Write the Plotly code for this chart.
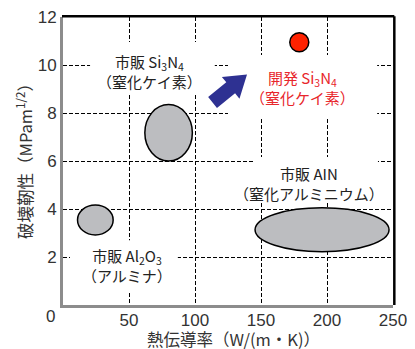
import math
import plotly.graph_objects as go

# ---------------- data ----------------
ellipse_names = ["市販 Al2O3", "市販 Si3N4", "市販 AlN"]
ellipse_k_min = [11.0, 62.0, 145.5]      # thermal conductivity W/(m·K)
ellipse_k_max = [38.0, 98.0, 247.0]
ellipse_kic_min = [2.92, 6.0, 2.22]      # fracture toughness MPam^1/2
ellipse_kic_max = [4.17, 8.35, 4.05]

developed_k = [179.0]
developed_kic = [10.95]

x_tick_vals = [0, 50, 100, 150, 200, 250]
x_tick_text = ["", "50", "100", "150", "200", "250"]
y_tick_vals = [2, 4, 6, 8, 10, 12]
y_tick_text = ["2", "4", "6", "8", "10", "12"]

label_texts = [
    "市販 Si<sub>3</sub>N<sub>4</sub><br>（窒化ケイ素）",
    "開発 Si<sub>3</sub>N<sub>4</sub><br>（窒化ケイ素）",
    "市販 AIN<br>（窒化アルミニウム）",
    "市販 Al<sub>2</sub>O<sub>3</sub><br>（アルミナ）",
]
x_title = "熱伝導率（W/(m・K)）"
y_title = "破壊靭性（MPam<sup>1/2</sup>）"

# ---------------- layout constants ----------------
# page body has an 8px default margin, so the figure is 8px smaller
W, H = 407, 341
ML, MR, MT, MB = 55, 22, 9, 44
X_RANGE = [0, 250]
Y_RANGE = [0, 12]
SX = (W - ML - MR) / (X_RANGE[1] - X_RANGE[0])   # px per x unit
SY = (H - MT - MB) / (Y_RANGE[1] - Y_RANGE[0])   # px per y unit

label_pos = [(65.9, 9.75), (181.8, 9.08), (186.4, 5.08), (48.5, 1.63)]
label_colors = ["#222222", "#e8262b", "#222222", "#222222"]
# white boxes behind labels (x0, x1, y0, y1) in data units
label_boxes = [
    (20.5, 115.0, 8.75, 10.96),
    (125.0, 238.0, 7.83, 10.42),
    (144.0, 238.6, 4.25, 6.17),
    (5.3, 87.0, 0.54, 2.7),
]
arrow_tail = (113.3, 8.44)
arrow_tip = (139.4, 9.6)

FONT = "Liberation Sans, Noto Sans CJK JP, sans-serif"
CJK = "Noto Sans CJK JP, Liberation Sans, sans-serif"

fig = go.Figure()

shapes = []
for (x0, x1, y0, y1) in label_boxes:
    shapes.append(dict(type="rect", xref="x", yref="y", x0=x0, x1=x1, y0=y0, y1=y1,
                       fillcolor="white", line=dict(width=0), layer="between"))

for i in range(len(ellipse_names)):
    shapes.append(dict(type="circle", xref="x", yref="y",
                       x0=ellipse_k_min[i], x1=ellipse_k_max[i],
                       y0=ellipse_kic_min[i], y1=ellipse_kic_max[i],
                       fillcolor="#bcbdc0", line=dict(color="black", width=1.5),
                       layer="between"))

# arrow polygon (computed in pixel space, converted back to data units)
dxp = (arrow_tip[0] - arrow_tail[0]) * SX
dyp = (arrow_tip[1] - arrow_tail[1]) * SY
L = math.hypot(dxp, dyp)
ux, uy = dxp / L, dyp / L
nx, ny = -uy, ux
shaft_hw, head_hw, head_len = 7.0, 14.0, 21.0
bx, by = dxp - ux * head_len, dyp - uy * head_len
pts_px = [
    (nx * shaft_hw, ny * shaft_hw),
    (bx + nx * shaft_hw, by + ny * shaft_hw),
    (bx + nx * head_hw, by + ny * head_hw),
    (dxp, dyp),
    (bx - nx * head_hw, by - ny * head_hw),
    (bx - nx * shaft_hw, by - ny * shaft_hw),
    (-nx * shaft_hw, -ny * shaft_hw),
]
pts = [(arrow_tail[0] + px / SX, arrow_tail[1] + py / SY) for px, py in pts_px]
path = "M " + " L ".join(f"{x:.3f},{y:.3f}" for x, y in pts) + " Z"
shapes.append(dict(type="path", xref="x", yref="y", path=path,
                   fillcolor="#2e3192", line=dict(width=0), layer="between"))

# top and right black frame lines
shapes.append(dict(type="line", xref="paper", yref="paper", x0=-0.003, x1=1.004, y0=1.003, y1=1.003,
                   line=dict(color="black", width=2.5), layer="above"))
shapes.append(dict(type="line", xref="paper", yref="paper", x0=1.004, x1=1.004, y0=0, y1=1.003,
                   line=dict(color="black", width=2.5), layer="above"))

fig.add_trace(go.Scatter(
    x=developed_k, y=developed_kic, mode="markers",
    marker=dict(size=19, color="#ff2200", line=dict(color="black", width=1.5)),
    showlegend=False, hoverinfo="skip"))

annotations = []
for txt, (x, y), c in zip(label_texts, label_pos, label_colors):
    annotations.append(dict(x=x, y=y, xref="x", yref="y", text=txt, showarrow=False,
                            xanchor="center", yanchor="middle",
                            font=dict(family=CJK, size=15, color=c), align="center"))
annotations.append(dict(x=0, y=0, xref="x", yref="y", text="0", showarrow=False,
                        xanchor="center", yanchor="middle",
                        xshift=-13, yshift=-11, font=dict(family=FONT, size=17, color="#333333")))
annotations.append(dict(x=0.518, y=-0.118, xref="paper", yref="paper", text=x_title,
                        xanchor="center", yanchor="middle",
                        showarrow=False, font=dict(family=CJK, size=16.5, color="#333333")))
annotations.append(dict(x=-0.115, y=0.514, xref="paper", yref="paper", text=y_title,
                        xanchor="center", yanchor="middle",
                        textangle=-90, showarrow=False,
                        font=dict(family=CJK, size=16.5, color="#333333")))

fig.update_layout(
    width=W, height=H,
    margin=dict(l=ML, r=MR, t=MT, b=MB, autoexpand=False),
    paper_bgcolor="white", plot_bgcolor="white",
    shapes=shapes, annotations=annotations,
    showlegend=False,
    xaxis=dict(range=X_RANGE, tickvals=x_tick_vals, ticktext=x_tick_text,
               showgrid=True, gridcolor="black", griddash="4px,2px", gridwidth=1,
               showline=True, linecolor="#8c8c8c", linewidth=3, zeroline=False,
               ticks="", tickfont=dict(family=FONT, size=17, color="#333333"),
               ticklabelstandoff=-2, ticklabeloverflow="allow", fixedrange=True),
    yaxis=dict(range=Y_RANGE, tickvals=y_tick_vals, ticktext=y_tick_text,
               showgrid=True, gridcolor="black", griddash="4px,2px", gridwidth=1,
               showline=True, linecolor="#8c8c8c", linewidth=3, zeroline=False,
               ticks="", tickfont=dict(family=FONT, size=17, color="#333333"),
               ticklabeloverflow="allow", fixedrange=True),
)

fig.write_html("out.html")
